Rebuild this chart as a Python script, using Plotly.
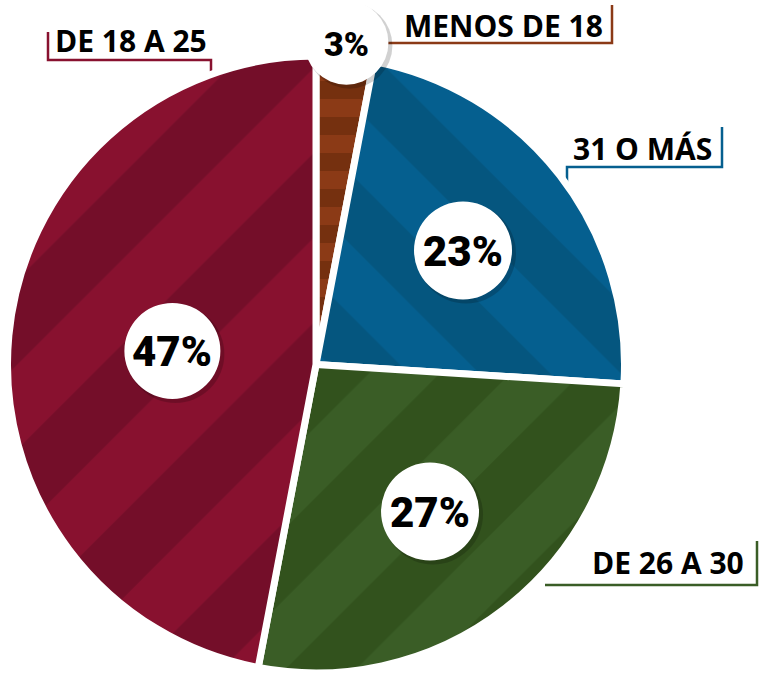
import numpy as np
import plotly.graph_objects as go

# ---- data ----
categories = ["MENOS DE 18", "31 O MÁS", "DE 26 A 30", "DE 18 A 25"]
values = [3, 23, 27, 47]
pct_labels = ["3%", "23%", "27%", "47%"]

# ---- styles ----
colors = ["#8b3a16", "#055f8f", "#3a5d26", "#88112f"]
stripe = ["#75300f", "#05567f", "#32521d", "#740e29"]
shapes_pat = ["-", "\\", "/", "/"]
pat_size = [36, 100, 100, 120]
label_r = [1.06, 0.61, 0.61, 0.473]   # radial position of the % bubbles (fraction of radius)
bubble_d = [84, 98, 98, 96]
pct_font = [34, 42, 42, 42]
PCT_FAMILY = "Roboto, sans-serif"

W, H = 759, 673
LW = 7
R = 305
RP = R + LW / 2
CX = 316
CY = H - RP  # pie touches the bottom edge

fig = go.Figure()
fig.add_trace(go.Pie(
    values=values, labels=categories, sort=False, direction="clockwise", rotation=0,
    textinfo="none", hoverinfo="label+percent", showlegend=False,
    marker=dict(colors=colors, line=dict(color="white", width=LW),
                pattern=dict(shape=shapes_pat, fgcolor=stripe, bgcolor=colors,
                             size=pat_size, solidity=0.5, fgopacity=1, fillmode="replace")),
    domain=dict(x=[(CX - RP) / W, (CX + RP) / W], y=[0, min(1, 2 * RP / H)]),
))

# bubble positions derived from the slice mid-angles
vals = np.array(values, dtype=float)
cum = np.cumsum(vals) - vals / 2
theta = cum / vals.sum() * 2 * np.pi
bx = CX + np.array(label_r) * R * np.sin(theta)
by = CY - np.array(label_r) * R * np.cos(theta)

shapes = []
annotations = []
for x, y, d, t, fs in zip(bx, by, bubble_d, pct_labels, pct_font):
    r = d / 2
    shapes.append(dict(type="circle", xref="x", yref="y", layer="above",
                       x0=x - r + 2, x1=x + r + 4, y0=y - r + 2, y1=y + r + 4,
                       fillcolor="rgba(0,0,0,0.18)", line=dict(width=0)))
    shapes.append(dict(type="circle", xref="x", yref="y", layer="above",
                       x0=x - r, x1=x + r, y0=y - r, y1=y + r,
                       fillcolor="white", line=dict(width=0)))
    annotations.append(dict(text=t, x=x, y=y + 1, xref="x", yref="y",
                            showarrow=False, xanchor="center", yanchor="middle",
                            font=dict(family=PCT_FAMILY, size=fs, color="black", weight=900)))

# outside labels with bracket leader lines
callouts = [
    ("MENOS DE 18", 503, 25, colors[0], [(385, 43), (612, 43), (612, 5)]),
    ("31 O MÁS", 642, 148, colors[1], [(567, 205), (567, 167), (722, 167), (722, 127)]),
    ("DE 26 A 30", 668, 562, colors[2], [(545, 585), (757, 585), (757, 541)]),
    ("DE 18 A 25", 131, 40, colors[3], [(48, 32), (48, 60), (211, 60), (211, 85)]),
]
for txt, tx, ty, col, pts in callouts:
    path = "M " + " L ".join(f"{x},{y}" for x, y in pts)
    shapes.append(dict(type="path", path=path, xref="x", yref="y",
                       line=dict(color=col, width=2.5), layer="below"))
    annotations.append(dict(text=f"<b>{txt}</b>", x=tx, y=ty, xref="x", yref="y",
                            showarrow=False, xanchor="center", yanchor="middle",
                            font=dict(family="Open Sans", size=30, color="black")))

fig.update_layout(
    width=W, height=H, margin=dict(l=0, r=0, t=0, b=0),
    paper_bgcolor="white", plot_bgcolor="rgba(0,0,0,0)",
    xaxis=dict(range=[0, W], visible=False, fixedrange=True),
    yaxis=dict(range=[H, 0], visible=False, fixedrange=True),
    shapes=shapes, annotations=annotations, showlegend=False,
)

fig.write_html("out.html", config={"displayModeBar": False},
               post_script="document.body.style.margin='0';")
